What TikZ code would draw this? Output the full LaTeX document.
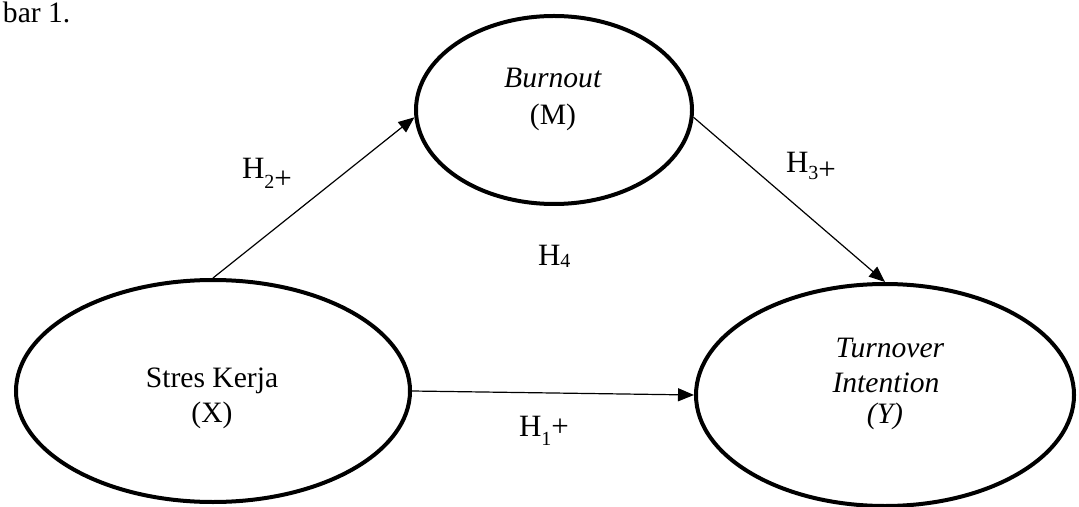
\documentclass[tikz,border=0pt]{standalone}
\usepackage{fontspec}
\setmainfont{Liberation Serif}
\usetikzlibrary{shapes.geometric,arrows.meta}
\newcommand{\hsub}[2]{\raisebox{#1}{{\fontsize{10}{12}\selectfont #2}}}
\tikzset{
  construct/.style={ellipse,draw,line width=2pt,inner sep=0pt},
  lbl/.style={inner sep=0pt,outer sep=0pt,font=\fontsize{14.8}{17.5}\selectfont},
  hyp/.style={inner sep=0pt,outer sep=0pt,font=\fontsize{15.5}{18}\selectfont,anchor=base west},
  path/.style={line width=0.6pt,-{Triangle[length=8pt,width=6.5pt]}}
}
\begin{document}
\begin{tikzpicture}[x=0.5pt,y=-0.5pt]
\useasboundingbox (0,0) rectangle (1079,507);
\fill[white] (0,0) rectangle (1079,507);
% caption fragment
\node[lbl,anchor=base west] (cap) at (3,23) {bar 1.};
% constructs
\node[construct,minimum width=138pt,minimum height=94pt] (B) at (554,110) {};
\node[construct,minimum width=197pt,minimum height=111pt] (S) at (213,391) {};
\node[construct,minimum width=189pt,minimum height=111pt] (T) at (885,395) {};
% texts
\node[lbl,anchor=base] (b1) at (553,88) {\textit{Burnout}};
\node[lbl,anchor=base] (b2) at (553,125) {(M)};
\node[lbl,anchor=base] (s1) at (212,387) {Stres Kerja};
\node[lbl,anchor=base] (s2) at (212,422) {(X)};
\node[lbl,anchor=base] (t1) at (890,357) {\textit{Turnover}};
\node[lbl,anchor=base] (t2) at (886,392) {\textit{Intention}};
\node[lbl,anchor=base] (t3) at (885,423) {\textit{(Y)}};
% paths
\draw[path] (S.north) -- (B.183);
\draw[path] (B.-3) -- (T.north);
\draw[path] (S.east) -- (T.west);
% hypothesis labels
\node[hyp] (h2) at (242,179) {H\raisebox{-5pt}{{\fontsize{10}{12}\selectfont 2}+}};
\node[hyp] (h3) at (786,173) {H\raisebox{-3.5pt}{{\fontsize{10}{12}\selectfont 3}+}};
\node[hyp] (h4) at (538,265) {H\hsub{-1.2pt}{4}};
\node[hyp] (h1) at (519,436) {H\hsub{-4.5pt}{1}+};
\end{tikzpicture}
\end{document}
